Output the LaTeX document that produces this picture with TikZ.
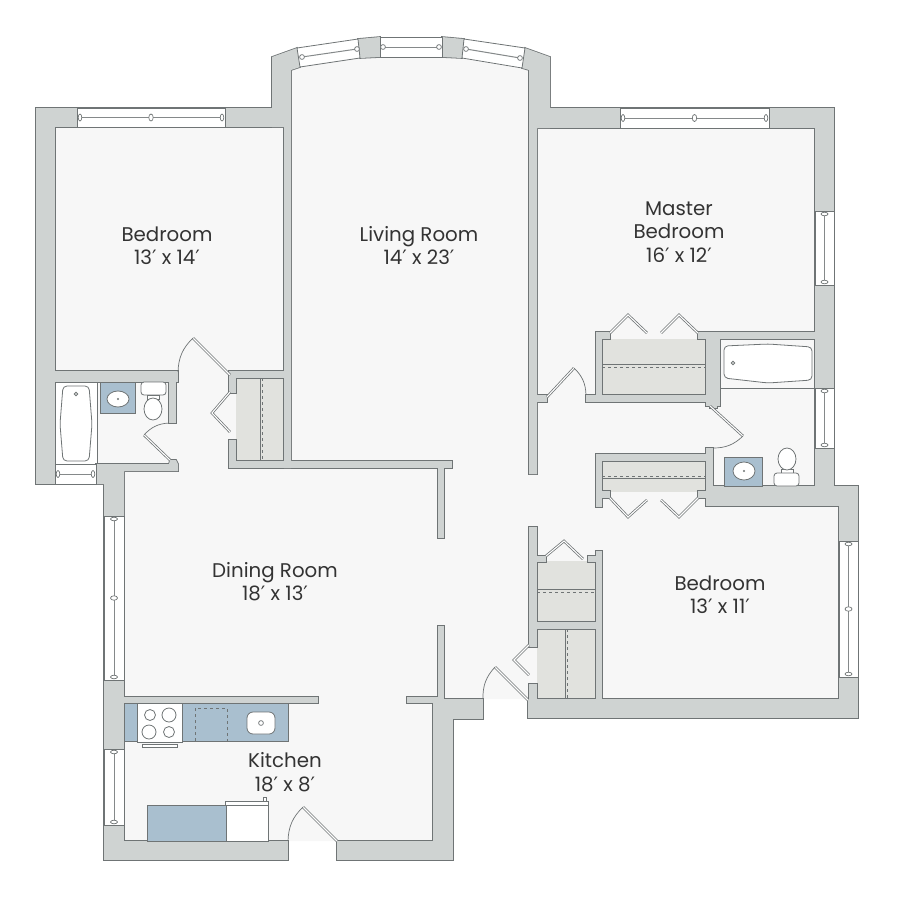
\documentclass[tikz,border=0pt]{standalone}
\usepackage{fontspec}
\setmainfont{Poppins}
\newfontfamily\primefont{DejaVu Sans}
\usepackage{tikz}

\definecolor{wallgray}{HTML}{CFD3D2}
\definecolor{edgegray}{HTML}{6F7475}
\definecolor{floorgray}{HTML}{F7F7F7}
\definecolor{closetgray}{HTML}{E1E2DE}
\definecolor{counterblue}{HTML}{A9BFCF}

\newcommand{\ftmark}{{\primefont ′}}

\tikzset{
  wallline/.style={draw=edgegray, line width=1.6pt, line join=miter},
  wallfill/.style={fill=wallgray},
  windowpane/.style={draw=edgegray, fill=white, line width=.8pt},
  windowbar/.style={draw=edgegray!85, line width=1pt},
  windowmark/.style={draw=edgegray, fill=white, line width=.7pt},
  doorleaf/.style={draw=edgegray, line width=.75pt, double=white, double distance=1.1pt},
  doorswing/.style={draw=edgegray, line width=.7pt},
  fixture/.style={draw=edgegray, fill=white, line width=.8pt},
  counter/.style={draw=edgegray, fill=counterblue, line width=.8pt},
  roomtext/.style={font=\fontsize{19.8}{23.5}\selectfont, text=black!80, align=center}
}

\begin{document}
\begin{tikzpicture}[x=1pt, y=-1pt]

\useasboundingbox (0,0) rectangle (900,900);

% every wall piece, stroked first and filled after so the joins stay clean
\def \wallpieces {
  {(36,108) rectangle (272,127)},
  {(36,108) rectangle (55,484)},
  {(272,57) -- (297,48) -- (300,67) -- (291,70) -- (291,468) -- (284,468) -- (284,127) -- (272,127) -- cycle},
  {(358,39) -- (380,37) -- (380,57) -- (360,58) -- cycle},
  {(442,37) -- (464,39) -- (462,58) -- (442,57) -- cycle},
  {(525,48) -- (550,57) -- (550,128) -- (537,128) -- (537,474) -- (529,474) -- (529,70) -- (522,68) -- cycle},
  {(550,108) rectangle (834,128)},
  {(815,108) rectangle (834,506)},
  {(706,486) rectangle (858,506)},
  {(839,486) rectangle (858,718)},
  {(528,699) rectangle (858,718)},
  {(596,332) rectangle (602,402)},
  {(602,332) rectangle (610,339)},
  {(698,332) rectangle (815,339)},
  {(706,339) rectangle (720,406)},
  {(710,406) rectangle (717,408)},
  {(586,395) rectangle (706,402)},
  {(537,395) rectangle (547,402)},
  {(596,454) rectangle (713,461)},
  {(596,454) rectangle (602,507)},
  {(602,491) rectangle (610,498)},
  {(698,491) rectangle (706,498)},
  {(706,448) rectangle (713,506)},
  {(596,551) rectangle (602,699)},
  {(537,622) rectangle (596,629)},
  {(529,527) rectangle (537,647)},
  {(537,556) rectangle (546,562)},
  {(588,556) rectangle (596,562)},
  {(529,684) rectangle (537,699)},
  {(55,371) rectangle (178,382)},
  {(169,382) rectangle (176,423)},
  {(96,464) -- (169,464) -- (170,460) -- (176,460) -- (178,464) -- (178,471) -- (124,471) -- (124,516) -- (104,516) -- (104,484) -- (96,484) -- cycle},
  {(104,516) rectangle (124,860)},
  {(104,841) rectangle (288,860)},
  {(337,841) rectangle (453,860)},
  {(433,703) rectangle (453,860)},
  {(433,699) rectangle (483,719)},
  {(438,626) rectangle (444,703)},
  {(407,697) rectangle (438,703)},
  {(124,697) rectangle (318,703)},
  {(229,461) rectangle (452,468)},
  {(438,468) rectangle (444,538)},
  {(229,371) rectangle (284,378)},
  {(229,371) rectangle (236,393)},
  {(229,440) rectangle (236,468)}
}

% floor
\fill[floorgray] (36,108) -- (272,108) -- (272,57) -- (297,48) -- (358,39) -- (380,37) -- (442,37) -- (464,39)
  -- (525,48) -- (550,57) -- (550,108) -- (834,108) -- (834,486) -- (858,486) -- (858,718) -- (528,718)
  -- (528,699) -- (483,699) -- (483,719) -- (453,719) -- (453,860) -- (337,860) -- (337,841) -- (288,841)
  -- (288,860) -- (104,860) -- (104,484) -- (36,484) -- cycle;

% closets
\foreach \xa/\ya/\xb/\yb in {236/378/284/461, 602/339/706/395, 602/461/706/492, 537/561/596/622, 537/629/596/699}
{
  \fill[closetgray] (\xa,\ya) rectangle (\xb,\yb);
}
\draw[edgegray, line width=.9pt] (260,378) -- (260,461);
\draw[edgegray, line width=.8pt, dashed] (262,378) -- (262,461);
\draw[edgegray, line width=.9pt] (602,364) -- (706,364);
\draw[edgegray, line width=.8pt, dashed] (602,367) -- (706,367);
\draw[edgegray, line width=.9pt] (602,478) -- (706,478);
\draw[edgegray, line width=.8pt, dashed] (602,476) -- (706,476);
\draw[edgegray, line width=.9pt] (537,589) -- (596,589);
\draw[edgegray, line width=.8pt, dashed] (537,592) -- (596,592);
\draw[edgegray, line width=.9pt] (565,629) -- (565,699);
\draw[edgegray, line width=.8pt, dashed] (567,629) -- (567,699);

% tub alcoves
\fill[white] (55,382) rectangle (97,464);
\draw[edgegray, line width=.8pt] (97,382) -- (97,464);
\draw[edgegray, line width=.8pt] (720,388) -- (815,388);

% walls
\foreach \piece in \wallpieces
{
  \path[wallline] \piece;
}
\foreach \piece in \wallpieces
{
  \path[wallfill] \piece;
}

% windows along the top and bottom of a room
\foreach \xa/\xb/\ya/\yb/\midmark in {77/225/108/127/1, 620/769/108/128/1, 55/96/464/484/0}
{
  \path[windowpane] (\xa,\ya) rectangle (\xb,\yb);
  \draw[windowbar] ({\xa+3},{(\ya+\yb)/2}) -- ({\xb-3},{(\ya+\yb)/2});
  \path[windowmark] ({\xa+3},{(\ya+\yb)/2}) ellipse [x radius=1.8, y radius=3.5];
  \path[windowmark] ({\xb-3},{(\ya+\yb)/2}) ellipse [x radius=1.8, y radius=3.5];
  \ifnum\midmark=1
    \path[windowmark] ({(\xa+\xb)/2},{(\ya+\yb)/2}) ellipse [x radius=2.2, y radius=3.5];
  \fi
}
% windows along the sides
\foreach \xa/\xb/\ya/\yb/\midmark in {815/834/211/285/0, 815/834/388/448/0, 839/858/541/677/1, 104/124/516/680/1, 104/124/749/825/0}
{
  \path[windowpane] (\xa,\ya) rectangle (\xb,\yb);
  \draw[windowbar] ({(\xa+\xb)/2},{\ya+3}) -- ({(\xa+\xb)/2},{\yb-3});
  \path[windowmark] ({(\xa+\xb)/2},{\ya+3}) ellipse [x radius=3.5, y radius=1.8];
  \path[windowmark] ({(\xa+\xb)/2},{\yb-3}) ellipse [x radius=3.5, y radius=1.8];
  \ifnum\midmark=1
    \path[windowmark] ({(\xa+\xb)/2},{(\ya+\yb)/2}) ellipse [x radius=3.5, y radius=2.2];
  \fi
}
% the bay
\path[windowpane] (297,48) -- (358,39) -- (360,58) -- (300,67) -- cycle;
\path[windowpane] (380,37) -- (442,37) -- (442,57) -- (380,57) -- cycle;
\path[windowpane] (464,39) -- (525,48) -- (522,68) -- (462,58) -- cycle;
\draw[windowbar] (302,57) -- (357,49);
\draw[windowbar] (383,47) -- (439,47);
\draw[windowbar] (466,49) -- (520,58);
\foreach \mx/\my in {302/57, 357/49, 383/47, 439/47, 466/49, 520/58}
{
  \path[windowmark] (\mx,\my) circle (2.4);
}

% swing doors: hinge, tip, jamb
\foreach \hx/\hy/\tx/\ty/\jx/\jy/\side in {230/375/193/338/178/372/right, 170/460/144/435/169/423/left, 547/397/574/368/586/395/left, 710/406/743/436/713/448/left, 528/700/495/667/483/699/right, 337/841/303/807/288/841/right}
{
  \draw[doorleaf] (\hx,\hy) -- (\tx,\ty);
  \draw[doorswing] (\tx,\ty) to[bend \side=22] (\jx,\jy);
}

% folding closet doors
\foreach \xa/\ya/\xb/\yb/\xc/\yc in {230/392/212/413/230/432, 610/333/628/315/647/333, 661/333/679/315/698/333, 610/498/628/517/647/500, 661/500/679/517/698/498, 546/556/564/541/583/559, 529/645/514/660/529/675}
{
  \draw[doorleaf] (\xa,\ya) -- (\xb,\yb) -- (\xc,\yc);
}

% left bath
\draw[fixture, rounded corners=4pt] (63,386) -- (89,386) -- (92,424) -- (89,461) -- (63,461) -- (60,424) -- cycle;
\draw[fixture] (76,394) circle (1.8);
\draw[counter] (100,382) rectangle (135,413);
\draw[fixture] (118,399) ellipse [x radius=11, y radius=8];
\fill[edgegray] (118,399) circle (1.2);
\draw[fixture, rounded corners=3pt] (141,382) rectangle (166,395);
\draw[fixture] (147,395) rectangle (159,399);
\draw[fixture] (153,409) ellipse [x radius=9, y radius=11];

% master bath
\draw[fixture, rounded corners=4pt] (724,346) -- (768,344) -- (812,347) -- (812,380) -- (768,383) -- (724,378) -- cycle;
\draw[fixture] (733,363) circle (1.8);
\draw[counter] (724,457) rectangle (762,486);
\draw[fixture] (744,471) ellipse [x radius=11, y radius=9];
\fill[edgegray] (744,471) circle (1.2);
\draw[fixture] (781,469) rectangle (793,474);
\draw[fixture] (787,459) ellipse [x radius=9, y radius=11];
\draw[fixture, rounded corners=3pt] (774,473) rectangle (799,486);

% kitchen
\draw[counter] (124,703) rectangle (288,741);
\draw[fixture] (137,703) rectangle (182,742);
\draw[fixture] (142,744) rectangle (177,747);
\foreach \bx/\by/\br in {150/715/5.5, 169/715/7, 149/732/7, 169/732/5.5}
{
  \draw[edgegray, line width=.8pt] (\bx,\by) circle (\br);
}
\draw[edgegray, line width=.8pt, dashed] (195,741) -- (195,708) -- (227,708) -- (227,741);
\draw[fixture, rounded corners=6pt] (247,712) rectangle (275,734);
\draw[edgegray, line width=.7pt] (261,723) circle (2.4);
\draw[counter] (147,805) rectangle (226,841);
\draw[fixture] (226,805) rectangle (268,841);
\draw[fixture] (225,801) rectangle (268,805);
\draw[fixture] (263,797) rectangle (266,801);

% room names
\node[roomtext] (bedroomleft) at (167,245.5) {Bedroom\\13\ftmark{} x 14\ftmark};
\node[roomtext] (livingroom) at (419,245.5) {Living Room\\14\ftmark{} x 23\ftmark};
\node[roomtext] (masterbedroom) at (679,232) {Master\\Bedroom\\16\ftmark{} x 12\ftmark};
\node[roomtext] (diningroom) at (275,581.5) {Dining Room\\18\ftmark{} x 13\ftmark};
\node[roomtext] (bedroomright) at (720,594.5) {Bedroom\\13\ftmark{} x 11\ftmark};
\node[roomtext] (kitchen) at (285,772) {Kitchen\\18\ftmark{} x 8\ftmark};

\end{tikzpicture}
\end{document}
